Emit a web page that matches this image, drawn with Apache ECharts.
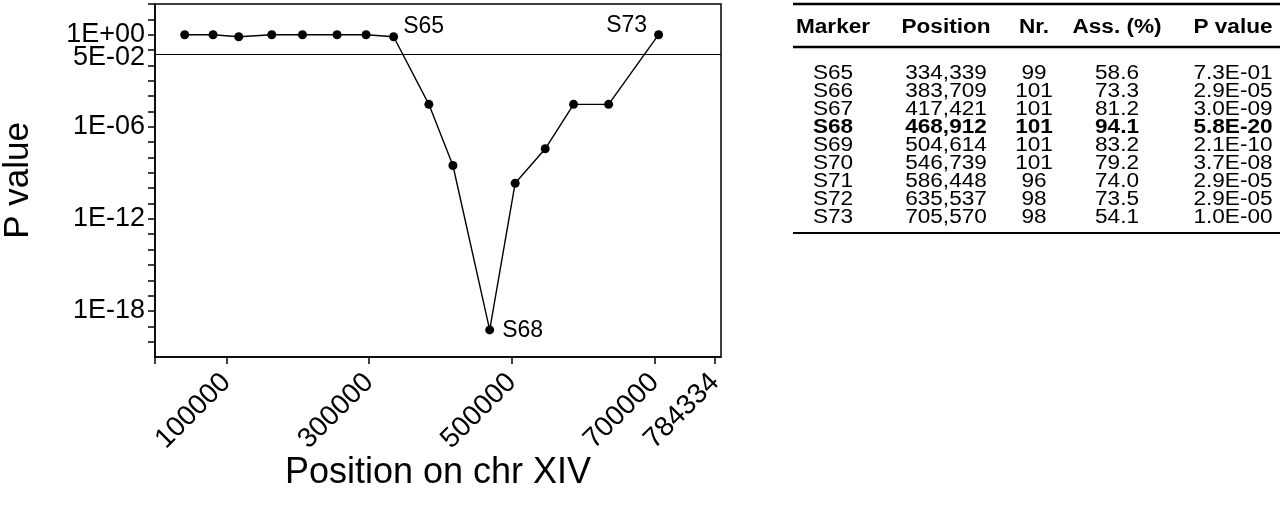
<!DOCTYPE html>
<html>
<head>
<meta charset="utf-8">
<script src="https://cdn.jsdelivr.net/npm/echarts@6/dist/echarts.min.js"></script>
<style>
html,body{margin:0;padding:0;background:#fff;}
#chart{width:1280px;height:506px;}
</style>
</head>
<body>
<div id="chart"></div>
<script>
// ---- data ----
// unlabeled markers left of S65 (positions / P values)
const leftPositions = [41600, 81300, 117300, 163600, 206600, 255100, 295700];
const leftPValues = [1.0, 1.0, 0.74, 1.0, 1.0, 1.0, 1.0];
// table markers
const markers = ['S65', 'S66', 'S67', 'S68', 'S69', 'S70', 'S71', 'S72', 'S73'];
const markerPositions = [334339, 383709, 417421, 468912, 504614, 546739, 586448, 635537, 705570];
const markerNr = [99, 101, 101, 101, 101, 101, 96, 98, 98];
const markerAss = ['58.6', '73.3', '81.2', '94.1', '83.2', '79.2', '74.0', '73.5', '54.1'];
const markerPText = ['7.3E-01', '2.9E-05', '3.0E-09', '5.8E-20', '2.1E-10', '3.7E-08', '2.9E-05', '2.9E-05', '1.0E-00'];
const labelledMarkers = ['S65', 'S68', 'S73'];
const boldMarker = 'S68';
const threshold = 0.05;
const thresholdLabel = '5E-02';
const xTickValues = [0, 100000, 300000, 500000, 700000, 784334];
const xLabelValues = [100000, 300000, 500000, 700000, 784334];
const yLabelExponents = [0, -6, -12, -18];
const tableHeaders = ['Marker', 'Position', 'Nr.', 'Ass. (%)', 'P value'];

// ---- chart ----
const FONT = '"Liberation Sans", Arial, Helvetica, sans-serif';
const chart = echarts.init(document.getElementById('chart'), null, {renderer: 'canvas'});

const labelCfg = {
  S65: {position: 'right', offset: [0, -10]},
  S68: {position: 'right', offset: [3, 1]},
  S73: {position: 'left', offset: [-2, -9]}
};

const seriesData = [];
leftPositions.forEach((x, i) => seriesData.push({value: [x, leftPValues[i]]}));
markers.forEach((m, i) => {
  const d = {name: m, value: [markerPositions[i], Number(markerPText[i])]};
  if (labelledMarkers.indexOf(m) >= 0) {
    d.label = Object.assign({show: true, formatter: m}, labelCfg[m]);
  }
  seriesData.push(d);
});

function fmtExp(v) {
  const e = Math.round(Math.log10(v));
  const sign = e < 0 ? '-' : '+';
  return '1E' + sign + String(Math.abs(e)).padStart(2, '0');
}

// table graphic
const colX = [833, 946, 1034, 1117, 1233];
const headerY = 27;
const rowY0 = 73;
const rowH = 18;
const tableLeft = 793, tableRight = 1280;
const graphics = [];
const txt = (x, y, s, bold) => ({
  type: 'text', x: x, y: y, scaleX: 1.13,
  style: {text: s, x: 0, y: 0, align: 'center', verticalAlign: 'middle',
    font: (bold ? 'bold ' : '') + '20px ' + FONT, fill: '#000'}
});
tableHeaders.forEach((h, i) => graphics.push(txt(colX[i], headerY, h, true)));
markers.forEach((m, r) => {
  const y = rowY0 + r * rowH;
  const b = m === boldMarker;
  const cells = [m, markerPositions[r].toLocaleString('en-US'), String(markerNr[r]), markerAss[r], markerPText[r]];
  cells.forEach((c, i) => graphics.push(txt(colX[i], y, c, b)));
});
const hline = (y, w) => ({type: 'line', shape: {x1: tableLeft, y1: y, x2: tableRight, y2: y}, style: {stroke: '#000', lineWidth: w}});
graphics.push(hline(4, 2.5));
graphics.push(hline(47, 2.5));
graphics.push(hline(rowY0 + (markers.length - 1) * rowH + 16, 2));

const option = {
  backgroundColor: '#fff',
  animation: false,
  textStyle: {fontFamily: FONT},
  grid: {left: 155, top: 4, right: 559, bottom: 149, show: true, borderColor: '#000', borderWidth: 1.5,
    containLabel: false, outerBoundsMode: 'none'},
  xAxis: {
    type: 'value', min: 0, max: 793000,
    name: 'Position on chr XIV', nameLocation: 'middle', nameGap: 98, nameMoveOverlap: false,
    nameTextStyle: {fontSize: 36, color: '#000', fontFamily: FONT},
    axisLine: {show: true, lineStyle: {color: '#000', width: 1.5}},
    axisTick: {show: true, length: 7, lineStyle: {color: '#000', width: 1.5}, customValues: xTickValues},
    axisLabel: {show: true, rotate: 45, fontSize: 28, color: '#000', margin: 21, fontFamily: FONT,
      customValues: xLabelValues, hideOverlap: false, formatter: v => String(v)},
    splitLine: {show: false}
  },
  yAxis: {
    type: 'log', logBase: 10, min: 1e-21, max: 1e2, interval: 1,
    name: 'P value', nameLocation: 'middle', nameGap: 119, nameRotate: 90, nameMoveOverlap: false,
    nameTextStyle: {fontSize: 35, color: '#000', fontFamily: FONT},
    axisLine: {show: true, lineStyle: {color: '#000', width: 1.5}},
    axisTick: {show: true, length: 7, lineStyle: {color: '#000', width: 1.5}},
    axisLabel: {show: true, fontSize: 27, color: '#000', margin: 10, fontFamily: FONT, hideOverlap: false,
      formatter: v => {
        const e = Math.round(Math.log10(v));
        return yLabelExponents.indexOf(e) >= 0 ? fmtExp(v) : '';
      }},
    splitLine: {show: false}
  },
  series: [{
    type: 'line',
    data: seriesData,
    symbol: 'circle', symbolSize: 9,
    itemStyle: {color: '#000'},
    lineStyle: {color: '#000', width: 1.4},
    label: {show: false, fontSize: 23, color: '#000', fontFamily: FONT, distance: 5},
    markLine: {
      silent: true, symbol: 'none',
      lineStyle: {color: '#000', width: 1, type: 'solid'},
      label: {show: true, position: 'start', formatter: thresholdLabel, fontSize: 27, color: '#000', fontFamily: FONT, distance: 10, offset: [0, 3]},
      data: [{yAxis: threshold}]
    }
  }],
  graphic: graphics
};
chart.setOption(option);
</script>
</body>
</html>
